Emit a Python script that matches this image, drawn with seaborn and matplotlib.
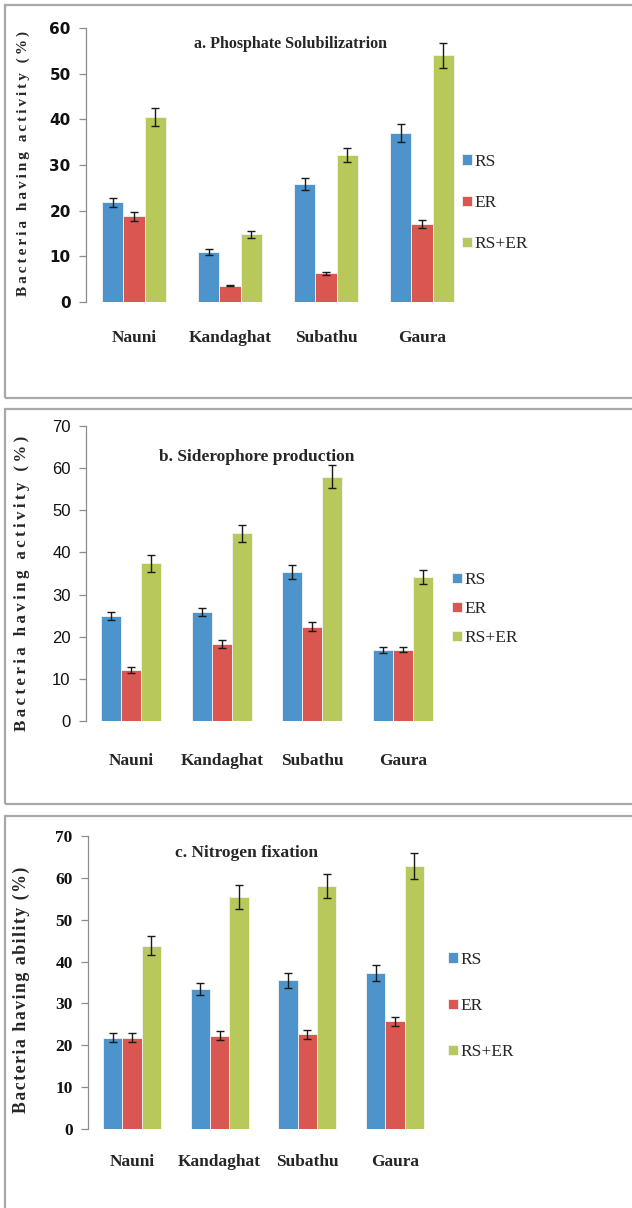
import numpy as np
import pandas as pd
import matplotlib
matplotlib.use("Agg")
import matplotlib.pyplot as plt
from matplotlib.patches import Rectangle
import seaborn as sns

W, H = 632, 1208

sites = ["Nauni", "Kandaghat", "Subathu", "Gaura"]
groups = ["RS", "ER", "RS+ER"]

# a. Phosphate solubilization
phos_rs = [21.8, 11.0, 25.8, 37.0]
phos_er = [18.8, 3.6, 6.3, 17.0]
phos_both = [40.5, 14.8, 32.2, 54.0]
phos_rs_err = [1.0, 0.6, 1.3, 1.9]
phos_er_err = [1.0, 0.2, 0.3, 0.9]
phos_both_err = [2.0, 0.8, 1.6, 2.8]

# b. Siderophore production
sid_rs = [24.9, 25.9, 35.3, 16.9]
sid_er = [12.1, 18.3, 22.4, 16.9]
sid_both = [37.4, 44.5, 58.0, 34.2]
sid_rs_err = [1.0, 1.0, 1.6, 0.7]
sid_er_err = [0.6, 1.0, 1.0, 0.6]
sid_both_err = [2.0, 2.1, 2.7, 1.7]

# c. Nitrogen fixation
nit_rs = [21.8, 33.4, 35.5, 37.2]
nit_er = [21.8, 22.3, 22.6, 25.7]
nit_both = [43.8, 55.5, 58.1, 62.9]
nit_rs_err = [1.1, 1.5, 1.7, 1.9]
nit_er_err = [1.1, 1.0, 1.0, 1.1]
nit_both_err = [2.2, 2.9, 2.8, 3.1]

BLUE = "#4E94CC"
RED = "#DA5650"
GREEN = "#B8C85A"
PAL = [BLUE, RED, GREEN]

sns.set_style("white")
plt.rcParams["font.family"] = ["Liberation Serif", "DejaVu Serif"]

fig = plt.figure(figsize=(W / 100, H / 100), dpi=100)


def fx(x):
    return x / W


def fy(y):
    return 1 - y / H


def spaced(s, sep):
    # the original axis titles are letter-spaced
    return sep.join(s)


# panel frames
for top, bot in [(5, 398), (409, 804), (816, 1215)]:
    fig.patches.append(Rectangle((fx(5), fy(bot)), fx(700), (bot - top) / H,
                                 transform=fig.transFigure, fill=False,
                                 edgecolor="#A8A8A8", lw=1.6))

panels = [
    dict(vals=[phos_rs, phos_er, phos_both],
         errs=[phos_rs_err, phos_er_err, phos_both_err],
         box=(86, 470, 28, 302), ymax=60,
         title="a. Phosphate Solubilizatrion", tpos=(290, 44), tsize=11.5,
         ylabel=spaced("Bacteria having activity (%)", "\u2009"), ylab_y=163,
         ylab_size=11,
         tickfont=dict(family="DejaVu Sans", weight="bold", size=11),
         pad=20, leg=(462, 203), lspace=1.45),
    dict(vals=[sid_rs, sid_er, sid_both],
         errs=[sid_rs_err, sid_er_err, sid_both_err],
         box=(86, 448, 426, 721), ymax=70,
         title="b. Siderophore production", tpos=(257, 457), tsize=12.5,
         ylabel=spaced("Bacteria having activity (%)", "\u2009"), ylab_y=583,
         ylab_size=12.2,
         tickfont=dict(family="Liberation Sans", weight="normal", size=12),
         pad=23, leg=(452, 609), lspace=0.75),
    dict(vals=[nit_rs, nit_er, nit_both],
         errs=[nit_rs_err, nit_er_err, nit_both_err],
         box=(88, 439, 836, 1129), ymax=70,
         title="c. Nitrogen fixation", tpos=(247, 853), tsize=12.5,
         ylabel=spaced("Bacteria having ability (%)", "\u200a"), ylab_y=990,
         ylab_size=12.8,
         tickfont=dict(family="Liberation Serif", weight="bold", size=12.5),
         pad=18, leg=(448, 1006), lspace=1.75),
]

for p in panels:
    x0, x1, y0, y1 = p["box"]
    ax = fig.add_axes([fx(x0), fy(y1), (x1 - x0) / W, (y1 - y0) / H])
    rows = []
    for g, v in zip(groups, p["vals"]):
        for s, val in zip(sites, v):
            rows.append({"site": s, "group": g, "value": val})
    df = pd.DataFrame(rows)
    sns.barplot(data=df, x="site", y="value", hue="group", hue_order=groups,
                order=sites, palette=PAL, saturation=1, width=0.66,
                errorbar=None, edgecolor="#F4F4F4", linewidth=0.6, ax=ax,
                legend=False)

    # error bars on each bar
    for cont, err in zip(ax.containers, p["errs"]):
        xs = [b.get_x() + b.get_width() / 2 for b in cont]
        hs = [b.get_height() for b in cont]
        ax.errorbar(xs, hs, yerr=err, fmt="none", ecolor="#1A1A1A",
                    elinewidth=1.0, capsize=3, capthick=1.0)

    ax.set_xlim(-0.5, 3.5)
    ax.set_ylim(0, p["ymax"])
    ax.set_yticks(np.arange(0, p["ymax"] + 1, 10))
    ax.set_xlabel("")
    ax.set_ylabel(p["ylabel"], fontsize=p["ylab_size"], fontweight="bold")
    ax.yaxis.set_label_coords(fx(30), fy(p["ylab_y"]), transform=fig.transFigure)
    for sp in ["top", "right", "bottom"]:
        ax.spines[sp].set_visible(False)
    ax.spines["left"].set_color("#8C8C8C")
    ax.spines["left"].set_linewidth(0.9)
    ax.tick_params(axis="y", direction="out", length=5, width=0.9,
                   color="#8C8C8C", left=True, pad=6)
    ax.tick_params(axis="x", length=0, pad=p["pad"])
    for lab in ax.get_yticklabels():
        lab.set_fontfamily(p["tickfont"]["family"])
        lab.set_fontweight(p["tickfont"]["weight"])
        lab.set_fontsize(p["tickfont"]["size"])
        lab.set_color("#111111")
    for lab in ax.get_xticklabels():
        lab.set_fontsize(12.5)
        lab.set_fontweight("bold")
    ax.text(fx(p["tpos"][0]), fy(p["tpos"][1]), p["title"],
            transform=fig.transFigure, ha="center", va="center",
            fontsize=p["tsize"], fontweight="bold")

    handles = [Rectangle((0, 0), 1, 1, facecolor=c, edgecolor="#F4F4F4", lw=0.6)
               for c in PAL]
    ax.legend(handles, groups, loc="center left",
              bbox_to_anchor=(fx(p["leg"][0]), fy(p["leg"][1])),
              bbox_transform=fig.transFigure, frameon=False,
              fontsize=12.5, handlelength=0.55, handleheight=0.55,
              handletextpad=0.15, labelspacing=p["lspace"],
              borderpad=0, borderaxespad=0)

fig.savefig("out.png", dpi=100)
